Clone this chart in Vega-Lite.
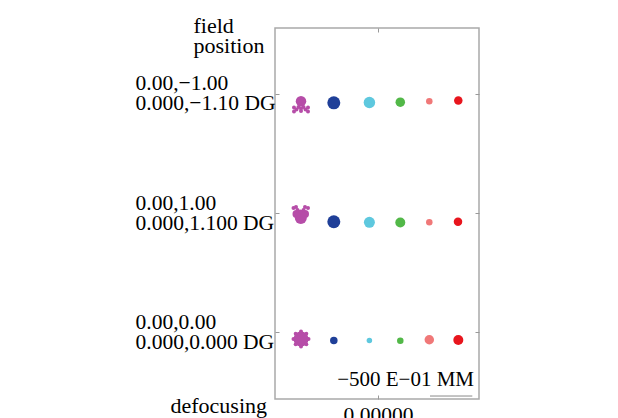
{
  "$schema": "https://vega.github.io/schema/vega-lite/v6.json",
  "width": 204,
  "height": 371,
  "autosize": {"type": "none"},
  "padding": {"left": 275, "top": 28, "right": 139, "bottom": 19},
  "background": "white",
  "config": {
    "font": "Liberation Serif",
    "view": {"stroke": "#a9a9a9", "strokeWidth": 1.5},
    "axis": {"grid": false, "domain": false, "tickColor": "#999999", "labelColor": "#000000", "titleColor": "#000000", "labelFont": "Liberation Serif", "titleFont": "Liberation Serif", "labelFontSize": 21.5, "titleFontSize": 22, "titleFontWeight": "normal"}
  },
  "layer": [
    {
      "data": {"values": [
        {"config": "1", "x_um": -77.0, "y_field": 2.938, "d_um": 10.5},
        {"config": "1", "x_um": -84.0, "y_field": 2.885, "d_um": 4},
        {"config": "1", "x_um": -81.5, "y_field": 2.869, "d_um": 4},
        {"config": "1", "x_um": -84.0, "y_field": 2.852, "d_um": 4},
        {"config": "1", "x_um": -79.5, "y_field": 2.890, "d_um": 4},
        {"config": "1", "x_um": -77.0, "y_field": 2.877, "d_um": 4},
        {"config": "1", "x_um": -77.0, "y_field": 2.856, "d_um": 4},
        {"config": "1", "x_um": -74.5, "y_field": 2.890, "d_um": 4},
        {"config": "1", "x_um": -72.5, "y_field": 2.869, "d_um": 4},
        {"config": "1", "x_um": -70.0, "y_field": 2.885, "d_um": 4},
        {"config": "1", "x_um": -70.0, "y_field": 2.852, "d_um": 4},
        {"config": "2", "x_um": -44.2, "y_field": 2.925, "d_um": 13},
        {"config": "3", "x_um": -8.6, "y_field": 2.927, "d_um": 11.5},
        {"config": "4", "x_um": 22.3, "y_field": 2.930, "d_um": 9.5},
        {"config": "5", "x_um": 51.3, "y_field": 2.938, "d_um": 6.5},
        {"config": "6", "x_um": 80.3, "y_field": 2.945, "d_um": 8.5},

        {"config": "1", "x_um": -77.2, "y_field": 1.958, "d_um": 12},
        {"config": "1", "x_um": -81.5, "y_field": 1.992, "d_um": 8},
        {"config": "1", "x_um": -73.0, "y_field": 1.992, "d_um": 8},
        {"config": "1", "x_um": -84.5, "y_field": 2.042, "d_um": 4},
        {"config": "1", "x_um": -82.0, "y_field": 2.051, "d_um": 4},
        {"config": "1", "x_um": -80.5, "y_field": 2.026, "d_um": 4},
        {"config": "1", "x_um": -77.5, "y_field": 2.013, "d_um": 4},
        {"config": "1", "x_um": -74.5, "y_field": 2.026, "d_um": 4},
        {"config": "1", "x_um": -73.0, "y_field": 2.051, "d_um": 4},
        {"config": "1", "x_um": -70.0, "y_field": 2.042, "d_um": 4},
        {"config": "2", "x_um": -44.2, "y_field": 1.927, "d_um": 13},
        {"config": "3", "x_um": -8.6, "y_field": 1.922, "d_um": 11},
        {"config": "4", "x_um": 22.3, "y_field": 1.921, "d_um": 10},
        {"config": "5", "x_um": 51.3, "y_field": 1.923, "d_um": 6.5},
        {"config": "6", "x_um": 80.0, "y_field": 1.927, "d_um": 8.5},

        {"config": "1", "x_um": -77.0, "y_field": 0.943, "d_um": 15},
        {"config": "1", "x_um": -69.5, "y_field": 0.943, "d_um": 4},
        {"config": "1", "x_um": -71.7, "y_field": 0.899, "d_um": 4},
        {"config": "1", "x_um": -77.0, "y_field": 0.880, "d_um": 4},
        {"config": "1", "x_um": -82.3, "y_field": 0.899, "d_um": 4},
        {"config": "1", "x_um": -84.5, "y_field": 0.943, "d_um": 4},
        {"config": "1", "x_um": -82.3, "y_field": 0.988, "d_um": 4},
        {"config": "1", "x_um": -77.0, "y_field": 1.006, "d_um": 4},
        {"config": "1", "x_um": -71.7, "y_field": 0.988, "d_um": 4},
        {"config": "2", "x_um": -44.2, "y_field": 0.931, "d_um": 7.5},
        {"config": "3", "x_um": -8.6, "y_field": 0.931, "d_um": 5.5},
        {"config": "4", "x_um": 22.3, "y_field": 0.929, "d_um": 6.5},
        {"config": "5", "x_um": 51.3, "y_field": 0.937, "d_um": 9.5},
        {"config": "6", "x_um": 80.3, "y_field": 0.935, "d_um": 10}
      ]},
      "mark": {"type": "point", "filled": true, "shape": "circle", "opacity": 1},
      "encoding": {
        "x": {"field": "x_um", "type": "quantitative",
          "scale": {"domain": [-103, 101], "nice": false, "zero": false},
          "axis": {"orient": "bottom", "values": [0], "labelExpr": "'0.00000'", "tickSize": -4, "labelPadding": 9, "labelBaseline": "top",
            "title": "defocusing", "titleAngle": 0, "titleAlign": "left", "titleBaseline": "alphabetic", "titleX": -105, "titleY": 13}},
        "y": {"field": "y_field", "type": "quantitative",
          "scale": {"domain": [0.44, 3.5524], "nice": false, "zero": false},
          "axis": {"orient": "left", "values": [1, 2, 3], "tickSize": -4, "labelPadding": 144, "labelAlign": "left", "labelBaseline": "middle", "labelOffset": -10, "labelLineHeight": 20,
            "labelExpr": "datum.value == 3 ? ['0.00,\u22121.00', '0.000,\u22121.10 DG'] : datum.value == 2 ? ['0.00,1.00', '0.000,1.100 DG'] : ['0.00,0.00', '0.000,0.000 DG']",
            "title": ["field", "position"], "titleAngle": 0, "titleAlign": "left", "titleBaseline": "alphabetic", "titleX": -82, "titleY": 4, "titleLineHeight": 20}},
        "color": {"field": "config", "type": "nominal", "legend": null,
          "scale": {"domain": ["1", "2", "3", "4", "5", "6"], "range": ["#b64da8", "#1f3f98", "#5ec8de", "#52b848", "#f07878", "#e8151d"]}},
        "size": {"field": "d_um", "type": "quantitative", "legend": null,
          "scale": {"type": "pow", "exponent": 2, "domain": [0, 20], "range": [0, 400]}}
      }
    },
    {
      "data": {"values": [{"bar": "scale"}]},
      "mark": {"type": "rule", "color": "#8a8a8a", "strokeWidth": 1},
      "encoding": {
        "x": {"datum": 52, "type": "quantitative", "axis": {"orient": "top", "values": [0], "labels": false, "tickSize": -4, "title": null}},
        "x2": {"datum": 94.3},
        "y": {"datum": 0.465, "type": "quantitative", "axis": {"orient": "right", "values": [1, 2, 3], "labels": false, "tickSize": -4, "title": null}}
      }
    },
    {
      "data": {"values": [{"note": "scale"}]},
      "mark": {"type": "text", "align": "right", "baseline": "alphabetic", "fontSize": 21, "font": "Liberation Serif", "color": "#000000"},
      "encoding": {
        "x": {"datum": 96, "type": "quantitative", "axis": null},
        "y": {"datum": 0.549, "type": "quantitative", "axis": null},
        "text": {"value": "\u2212500 E\u221201 MM"}
      }
    }
  ],
  "resolve": {"axis": {"x": "independent", "y": "independent"}}
}
